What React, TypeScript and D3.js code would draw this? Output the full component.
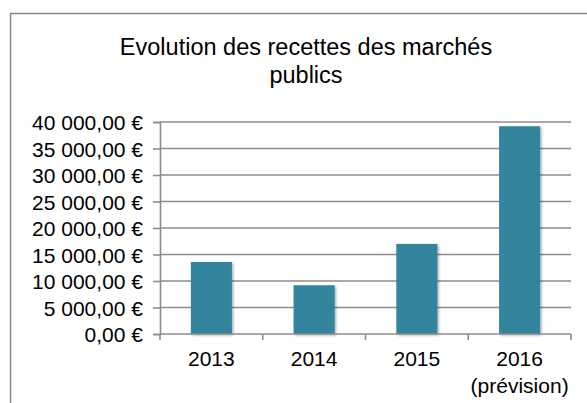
import React, { useRef, useEffect } from 'react';
import * as d3 from 'd3';

const years = ['2013', '2014', '2015', '2016'];
const yearNotes = ['', '', '', '(prévision)'];
const recettes = [13600, 9200, 17000, 39200];
const yTicks = [0, 5000, 10000, 15000, 20000, 25000, 30000, 35000, 40000];
const titleLines = ['Evolution des recettes des marchés', 'publics'];

const App: React.FC = () => {
  const svgRef = useRef<SVGSVGElement>(null);

  useEffect(() => {
    if (!svgRef.current) return;
    const svg = d3.select(svgRef.current);
    svg.selectAll('*').remove();

    const width = 587;
    const height = 403;
    const font = 'Liberation Sans, Arial, sans-serif';
    const grey = '#8c8c8c';

    const locale = d3.formatLocale({
      decimal: ',',
      thousands: ' ',
      grouping: [3],
      currency: ['', ' €'],
    });
    const fmt = locale.format('$,.2f');

    svg.attr('width', width).attr('height', height);

    const defs = svg.append('defs');
    const filter = defs.append('filter').attr('id', 'shadow')
      .attr('x', '-20%').attr('y', '-20%').attr('width', '150%').attr('height', '150%');
    filter.append('feDropShadow')
      .attr('dx', 1.5).attr('dy', 1.5).attr('stdDeviation', 1.2)
      .attr('flood-color', '#000').attr('flood-opacity', 0.3);

    // outer frame
    svg.append('rect')
      .attr('x', 10.5).attr('y', 13.5)
      .attr('width', 620).attr('height', 420)
      .attr('fill', 'white').attr('stroke', '#888').attr('stroke-width', 1.5);

    // title
    const title = svg.append('text')
      .attr('x', 306).attr('y', 55)
      .attr('text-anchor', 'middle')
      .style('font-family', font).style('font-size', '23.5px').style('fill', '#000');
    titleLines.forEach((t, i) => {
      title.append('tspan').attr('x', 306).attr('dy', i === 0 ? 0 : 28).text(t);
    });

    const left = 160, right = 571, top = 122, bottom = 334;

    const x = d3.scaleBand<string>().domain(years).range([left, right]).paddingInner(0.6).paddingOuter(0.3);
    const y = d3.scaleLinear().domain([0, 40000]).range([bottom, top]);

    // gridlines
    svg.append('g')
      .selectAll('line')
      .data(yTicks.filter(d => d > 0))
      .enter().append('line')
      .attr('x1', left).attr('x2', right)
      .attr('y1', d => y(d)).attr('y2', d => y(d))
      .attr('stroke', grey).attr('stroke-width', 1.6);

    // y axis
    const yAxis = svg.append('g')
      .attr('transform', `translate(${left},0)`)
      .call(d3.axisLeft(y).tickValues(yTicks).tickSize(7).tickPadding(10).tickFormat(d => fmt(d as number)));
    yAxis.select('.domain').attr('stroke', grey).attr('stroke-width', 1.6);
    yAxis.selectAll('.tick line').attr('stroke', grey).attr('stroke-width', 1.6);
    yAxis.selectAll('.tick text')
      .style('font-family', font).style('font-size', '21px').attr('fill', '#000').attr('dy', '0.36em');

    // bars
    svg.append('g')
      .selectAll('rect')
      .data(recettes)
      .enter().append('rect')
      .attr('x', (_, i) => x(years[i])!)
      .attr('width', x.bandwidth())
      .attr('y', d => y(d))
      .attr('height', d => bottom - y(d))
      .attr('fill', '#31859C')
      .attr('filter', 'url(#shadow)');

    // x axis
    const step = (right - left) / years.length;
    const xAxis = svg.append('g').attr('transform', `translate(0,${bottom})`);
    xAxis.append('line').attr('x1', left).attr('x2', right).attr('stroke', grey).attr('stroke-width', 1.6);
    xAxis.selectAll('.tk')
      .data(d3.range(years.length + 1))
      .enter().append('line')
      .attr('x1', i => left + i * step).attr('x2', i => left + i * step)
      .attr('y1', 0).attr('y2', 6)
      .attr('stroke', grey).attr('stroke-width', 1.6);
    const labels = xAxis.selectAll('.lbl')
      .data(years)
      .enter().append('text')
      .attr('text-anchor', 'middle')
      .attr('y', 32)
      .style('font-family', font).style('font-size', '21px').style('fill', '#000');
    labels.append('tspan').attr('x', d => x(d)! + x.bandwidth() / 2).text(d => d);
    labels.append('tspan')
      .attr('x', d => x(d)! + x.bandwidth() / 2)
      .attr('dy', 27)
      .text((_, i) => yearNotes[i]);
  }, []);

  return <svg ref={svgRef} style={{ position: 'fixed', left: 0, top: 0, display: 'block' }}></svg>;
};

export default App;
